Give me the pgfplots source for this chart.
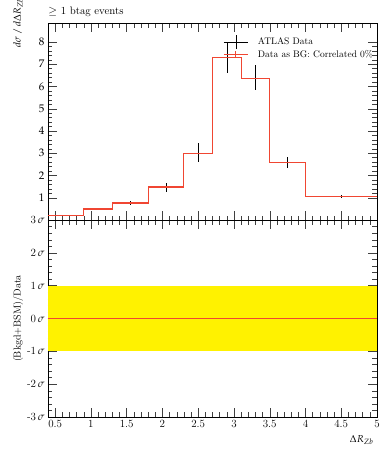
\documentclass[border=0pt]{standalone}
\usepackage{mathpazo}
\usepackage{pgfplots}
\pgfplotsset{compat=1.18}
\definecolor{histred}{RGB}{240,70,50}
\begin{document}
\begin{tikzpicture}
\pgfplotsset{
  common/.style={
    width=329pt, height=197pt, scale only axis,
    xmin=0.4, xmax=5,
    xtick={0.5,1,...,5},
    minor x tick num=4, minor y tick num=4,
    tick align=inside,
    xtick pos=both, ytick pos=both,
    major tick length=9pt, minor tick length=4.5pt,
    every tick/.style={black!75},
    tick label style={font=\fontsize{11}{13}\selectfont},
  }
}
\begin{axis}[common, name=top, at={(0pt,0pt)}, anchor=south west,
  ymin=0, ymax=8.85, ytick={1,...,8},
  xticklabels={},
  ylabel={$d\sigma\,/\,d\Delta R_{Zb}$},
  ylabel style={at={(axis description cs:-0.091,1.0)}, anchor=center},
  legend style={at={(axis description cs:0.532,0.94)}, anchor=north west, draw=none, fill=none,
    font=\fontsize{9.5}{11}\selectfont, row sep=-1pt, inner sep=0pt,
    nodes={inner sep=1.5pt}},
  legend cell align=left,
]
\addplot[draw=none, mark=none,
  legend image code/.code={\draw[black] (0pt,0pt) -- (24pt,0pt); \draw[black] (12pt,-7pt) -- (12pt,7pt); \path (32pt,0pt);},
  error bars/.cd, y dir=both, y explicit, error mark=none,
  error bar style={black, line width=0.6pt}]
coordinates {
(0.65,0.22) +- (0,0.02)
(1.1,0.49) +- (0,0.05)
(1.55,0.76) +- (0,0.08)
(2.05,1.48) +- (0,0.2)
(2.5,3.02) +- (0,0.42)
(2.9,7.3) +- (0,0.7)
(3.3,6.39) +- (0,0.56)
(3.75,2.57) +- (0,0.24)
(4.5,1.07) +- (0,0.07)
};
\addlegendentry{ATLAS Data}
\addplot[const plot, histred, line width=1.2pt,
  legend image code/.code={\draw[histred, line width=1.2pt] (0pt,0pt) -- (24pt,0pt); \draw[histred] (12pt,-3pt) -- (12pt,3pt); \path (32pt,0pt);}]
coordinates {(0.4,0.22) (0.9,0.49) (1.3,0.76) (1.8,1.48) (2.3,3.0) (2.7,7.3) (3.1,6.35) (3.5,2.6) (4.0,1.07) (5.0,1.07)};
\addlegendentry{Data as BG: Correlated 0\%}
\end{axis}
\node[anchor=base west, inner sep=0pt, font=\fontsize{10.8}{13}\selectfont] at ([yshift=9pt]top.north west) {$\geq$ 1 btag events};
\begin{axis}[common, at={(0pt,0pt)}, anchor=north west,
  ymin=-3, ymax=3, ytick={-3,...,3},
  yticklabels={{-3\,$\sigma$},{-2\,$\sigma$},{-1\,$\sigma$},{0\,$\sigma$},{1\,$\sigma$},{2\,$\sigma$},{3\,$\sigma$}},
  xticklabels={0.5,1,1.5,2,2.5,3,3.5,4,4.5,5},
  xlabel={$\Delta R_{Zb}$},
  xlabel style={at={(axis description cs:1,0)}, anchor=north east, yshift=-15pt},
  ylabel={(Bkgd+BSM)/Data},
  ylabel style={at={(axis description cs:-0.091,0.5)}, anchor=center},
]
\addplot[fill=yellow, draw=none] coordinates {(0.4,-1) (5,-1) (5,1) (0.4,1)} -- cycle;
\addplot[histred, line width=1.2pt] coordinates {(0.4,0) (5,0)};
\end{axis}
\pgfresetboundingbox
\path[use as bounding box] (-48pt,-230pt) rectangle (341pt,220pt);
\end{tikzpicture}
\end{document}
